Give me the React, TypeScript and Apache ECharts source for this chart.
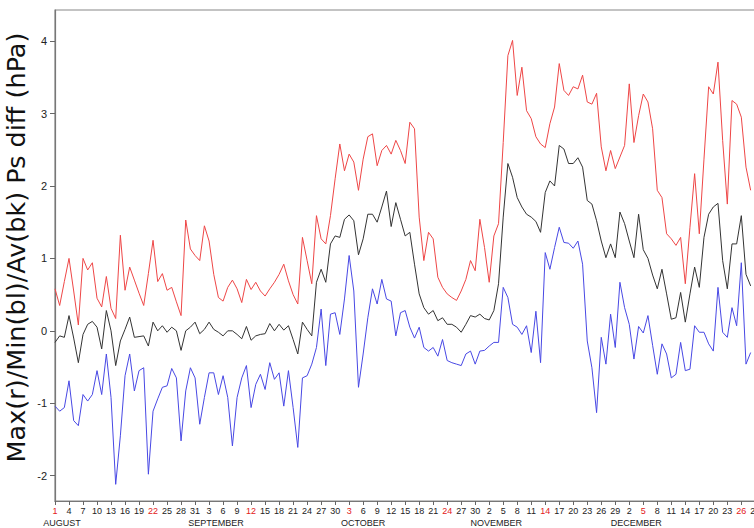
import { useEffect, useRef } from "react";
import * as echarts from "echarts";

// one value per day, starting 1 August
const redMax = [
  0.58, 0.35, 0.68, 1.0, 0.55, 0.08, 1.0, 0.84, 0.94, 0.45,
  0.33, 0.75, 0.31, 0.17, 1.32, 0.56, 0.88, 0.7, 0.52, 0.35,
  0.79, 1.25, 0.68, 0.79, 0.56, 0.6, 0.4, 0.21, 1.53, 1.13,
  1.04, 0.97, 1.45, 1.24, 0.78, 0.46, 0.41, 0.6, 0.7, 0.58,
  0.39, 0.71, 0.57, 0.67, 0.55, 0.48, 0.58, 0.67, 0.78, 0.92,
  0.69, 0.5, 0.37, 1.29, 0.97, 0.65, 1.59, 1.27, 1.2, 1.59,
  2.1, 2.58, 2.21, 2.44, 2.33, 1.94, 2.37, 2.68, 2.72, 2.28,
  2.49, 2.56, 2.44, 2.63, 2.49, 2.31, 2.88, 2.79, 1.57, 0.97,
  1.36, 1.27, 0.74, 0.6, 0.51, 0.46, 0.42, 0.55, 0.71, 0.97,
  0.83, 1.54, 1.15, 0.67, 1.31, 1.48, 2.6, 3.8, 4.01, 3.25,
  3.64, 3.04, 2.93, 2.68, 2.58, 2.53, 2.86, 3.09, 3.69, 3.32,
  3.25, 3.37, 3.34, 3.53, 3.16, 3.13, 3.28, 2.54, 2.21, 2.49,
  2.24, 2.4, 2.56, 3.41, 2.6, 2.97, 3.27, 3.16, 2.79, 1.94,
  1.84, 1.34, 1.27, 1.18, 1.29, 0.65, 1.43, 2.17, 1.34, 2.37,
  3.37, 3.27, 3.71, 2.63, 1.75, 3.18, 3.13, 2.95, 2.26, 1.94,
];

const blackAvg = [
  -0.16, -0.07, -0.09, 0.21, -0.1, -0.44, -0.05, 0.09, 0.13, 0.05,
  -0.25, 0.28, 0, -0.48, -0.14, 0.02, 0.19, -0.09, -0.08, -0.07,
  -0.21, 0.12, 0, 0.07, -0.02, 0.05, 0, -0.27, 0, 0.05,
  0.12, -0.04, 0.02, 0.12, 0.02, -0.02, -0.07, 0, 0, -0.05,
  -0.11, 0.06, -0.13, -0.07, -0.05, -0.04, 0.1, 0, 0.09, 0.01,
  0.07, -0.12, -0.32, 0.12, 0.02, -0.07, 0.67, 0.85, 0.67, 1.2,
  1.31, 1.29, 1.54, 1.6, 1.52, 1.05, 1.27, 1.61, 1.61, 1.5,
  1.71, 1.93, 1.44, 1.77, 1.54, 1.31, 1.36, 0.92, 0.51, 0.32,
  0.23, 0.28, 0.14, 0.18, 0.09, 0.09, 0.05, -0.02, 0.09, 0.21,
  0.19, 0.23, 0.17, 0.15, 0.28, 0.65, 1.57, 2.31, 2.12, 1.84,
  1.71, 1.61, 1.57, 1.51, 1.36, 1.91, 2.07, 2.0, 2.56, 2.51,
  2.31, 2.31, 2.39, 2.26, 1.8, 1.75, 1.52, 1.24, 1.01, 1.2,
  1.01, 1.64, 1.48, 1.24, 1.01, 1.61, 1.12, 1.0, 0.77, 0.58,
  0.85, 0.51, 0.16, 0.18, 0.53, 0.12, 0.51, 0.88, 0.6, 1.29,
  1.61, 1.71, 1.76, 0.97, 0.58, 1.2, 1.2, 1.59, 0.78, 0.62,
];

const blueMin = [
  -1.04, -1.11, -1.06, -0.69, -1.24, -1.31, -0.88, -0.97, -0.88, -0.55,
  -0.88, -0.32, -0.92, -2.12, -1.45, -0.62, -0.32, -0.83, -0.55, -0.51,
  -1.98, -1.11, -0.94, -0.78, -0.76, -0.52, -0.65, -1.52, -0.83, -0.51,
  -0.65, -1.29, -0.92, -0.58, -0.58, -0.88, -0.62, -0.92, -1.59, -0.92,
  -0.65, -0.48, -1.06, -0.74, -0.6, -0.81, -0.44, -0.67, -0.58, -1.04,
  -0.55, -1.06, -1.61, -0.65, -0.62, -0.46, -0.23, 0.3, -0.48, 0.23,
  0.25, -0.05, 0.44, 1.04, 0.55, -0.78, -0.32, 0.18, 0.58, 0.37,
  0.71, 0.44, 0.41, -0.07, 0.25, 0.28, 0.05, -0.1, 0.05, -0.23,
  -0.28, -0.23, -0.35, -0.12, -0.41, -0.44, -0.46, -0.48, -0.32, -0.28,
  -0.46, -0.28, -0.27, -0.21, -0.16, -0.16, 0.6, 0.46, 0.09, 0.05,
  -0.05, 0.07, -0.3, 0.27, -0.44, 1.08, 0.85, 1.15, 1.43, 1.22,
  1.21, 1.14, 1.24, 0.92, -0.14, -0.51, -1.13, -0.09, -0.46, 0.23,
  -0.23, 0.67, 0.32, 0.09, -0.39, 0.06, -0.03, 0.21, -0.2, -0.6,
  -0.18, -0.32, -0.65, -0.6, -0.16, -0.55, -0.53, 0.07, -0.02, -0.02,
  -0.18, -0.28, 0.6, -0.02, -0.09, 0.32, 0.07, 0.94, -0.46, -0.3,
];

// x tick labels, one every 3 days
const dayLabels = [
  "1", "4", "7", "10", "13", "16", "19", "22", "25", "28", "31",
  "3", "6", "9", "12", "15", "18", "21", "24", "27", "30",
  "3", "6", "9", "12", "15", "18", "21", "24", "27", "30",
  "2", "5", "8", "11", "14", "17", "20", "23", "26", "29",
  "2", "5", "8", "11", "14", "17", "20", "23", "26", "29",
];
const redLabelIdx = [0, 7, 14, 21, 28, 35, 42, 49];

const monthNames = ["AUGUST", "SEPTEMBER", "OCTOBER", "NOVEMBER", "DECEMBER"];
const monthLabelDays = [1.5, 34.5, 66, 94.5, 124.5];

const yTicks = [-2, -1, 0, 1, 2, 3, 4];

const FONT = "Liberation Sans, Arial, sans-serif";
const X_MAX = 151;

export default function App() {
  const chartRef = useRef<HTMLDivElement>(null);

  useEffect(() => {
    if (!chartRef.current) return;
    const chart = echarts.init(chartRef.current, null, { renderer: "svg" });

    const toPairs = (arr: number[]) => arr.map((v, i) => [i, v]);

    chart.setOption({
      animation: false,
      backgroundColor: "#ffffff",
      grid: {
        left: 55,
        top: 10,
        right: -6,
        bottom: 27,
        show: true,
        borderColor: "#888",
        borderWidth: 1.2,
        outerBoundsMode: "none",
        containLabel: false,
      },
      xAxis: [
        {
          type: "value",
          min: 0,
          max: X_MAX,
          interval: 3,
          axisLine: { show: true, onZero: false, lineStyle: { color: "#777", width: 1.2 } },
          axisTick: { show: true, length: 4, lineStyle: { color: "#666" } },
          splitLine: { show: false },
          axisLabel: {
            fontSize: 9,
            fontFamily: FONT,
            margin: 5,
            formatter: (v: number) => {
              const i = Math.round(v / 3);
              return Math.abs(v - i * 3) < 1e-6 ? dayLabels[i] ?? "" : "";
            },
            color: (v: any) =>
              redLabelIdx.includes(Math.round(Number(v) / 3)) ? "#e32020" : "#222",
          },
        },
        {
          type: "value",
          position: "bottom",
          offset: 13,
          min: 0,
          max: X_MAX,
          axisLine: { show: false, onZero: false },
          axisTick: { show: false },
          splitLine: { show: false },
          axisLabel: {
            customValues: monthLabelDays,
            fontSize: 9,
            fontFamily: FONT,
            color: "#222",
            margin: 4,
            formatter: (v: number) => monthNames[monthLabelDays.indexOf(Number(v))] ?? "",
          },
        },
      ],
      yAxis: {
        type: "value",
        min: -2.35,
        max: 4.43,
        axisLine: { show: true, onZero: false, lineStyle: { color: "#777", width: 1.2 } },
        axisTick: { show: true, length: 5, customValues: yTicks, lineStyle: { color: "#666" } },
        splitLine: { show: false },
        axisLabel: {
          customValues: yTicks,
          fontSize: 11,
          fontFamily: FONT,
          color: "#222",
          margin: 8,
        },
        name: "Max(r)/Min(bl)/Av(bk) Ps diff (hPa)",
        nameLocation: "middle",
        nameGap: 26,
        nameMoveOverlap: false,
        nameTextStyle: {
          fontSize: 25.5,
          fontFamily: "DejaVu Sans, sans-serif",
          color: "#111",
          padding: [0, 0, 0, 16],
        },
      },
      series: [
        {
          name: "Max",
          type: "line",
          data: toPairs(redMax),
          showSymbol: false,
          lineStyle: { color: "#ee4646", width: 1 },
          itemStyle: { color: "#ee4646" },
        },
        {
          name: "Av",
          type: "line",
          data: toPairs(blackAvg),
          showSymbol: false,
          lineStyle: { color: "#333", width: 1 },
          itemStyle: { color: "#333" },
        },
        {
          name: "Min",
          type: "line",
          data: toPairs(blueMin),
          showSymbol: false,
          lineStyle: { color: "#4848e4", width: 1 },
          itemStyle: { color: "#4848e4" },
        },
      ],
    });

    return () => {
      chart.dispose();
    };
  }, []);

  return (
    <div
      ref={chartRef}
      style={{ position: "fixed", left: 0, top: 0, width: 754, height: 528 }}
    />
  );
}
